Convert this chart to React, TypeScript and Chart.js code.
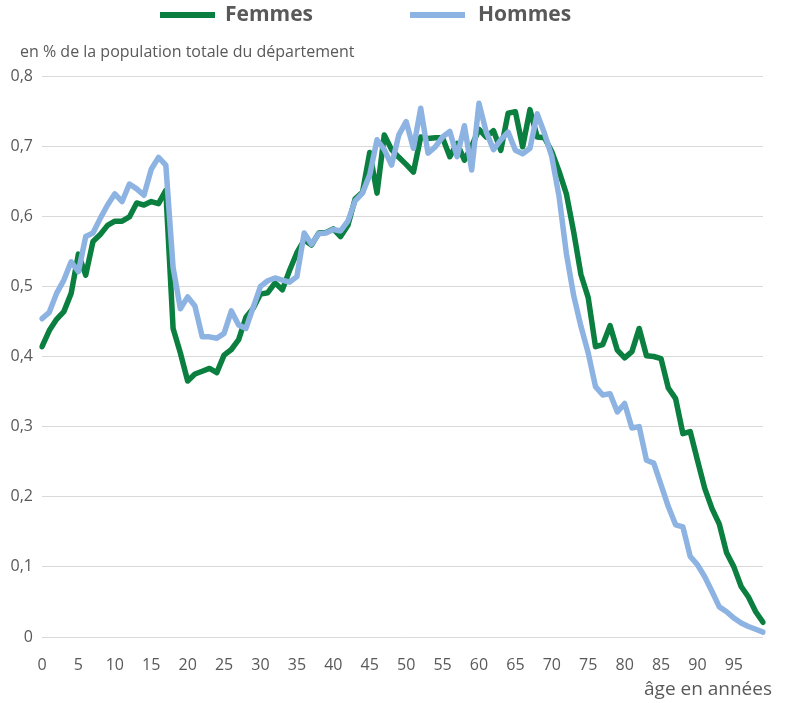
import React, { useEffect, useRef } from "react";
import { Chart, registerables } from "chart.js";

Chart.register(...registerables);

const ages: string[] = Array.from({ length: 100 }, (_, i) => String(i));

const xTickLabels = ["0", "5", "10", "15", "20", "25", "30", "35", "40", "45", "50", "55", "60", "65", "70", "75", "80", "85", "90", "95"];

const yTickValues = [0, 0.1, 0.2, 0.3, 0.4, 0.5, 0.6, 0.7, 0.8];

const femmes = [
  0.414, 0.437, 0.453, 0.464, 0.49, 0.546, 0.516, 0.564, 0.574, 0.587,
  0.593, 0.593, 0.599, 0.619, 0.616, 0.621, 0.618, 0.637, 0.44, 0.405,
  0.365, 0.375, 0.379, 0.383, 0.377, 0.402, 0.41, 0.424, 0.456, 0.469,
  0.489, 0.491, 0.505, 0.495, 0.523, 0.548, 0.566, 0.559, 0.576, 0.577,
  0.582, 0.571, 0.587, 0.625, 0.634, 0.691, 0.633, 0.716, 0.695, 0.684,
  0.674, 0.663, 0.713, 0.711, 0.712, 0.712, 0.685, 0.704, 0.68, 0.7,
  0.724, 0.713, 0.722, 0.694, 0.747, 0.749, 0.699, 0.752, 0.713, 0.712,
  0.692, 0.664, 0.632, 0.578, 0.517, 0.484, 0.414, 0.417, 0.444, 0.409,
  0.398, 0.407, 0.44, 0.401, 0.4, 0.397, 0.355, 0.34, 0.29, 0.293,
  0.252, 0.212, 0.183, 0.161, 0.12, 0.1, 0.072, 0.057, 0.036, 0.021,
];

const hommes = [
  0.454, 0.463, 0.49, 0.509, 0.535, 0.521, 0.571, 0.576, 0.597, 0.616,
  0.632, 0.621, 0.646, 0.639, 0.63, 0.667, 0.684, 0.673, 0.527, 0.468,
  0.485, 0.472, 0.428, 0.428, 0.426, 0.433, 0.465, 0.445, 0.44, 0.47,
  0.5, 0.508, 0.512, 0.509, 0.506, 0.514, 0.576, 0.56, 0.575, 0.576,
  0.581, 0.579, 0.593, 0.622, 0.633, 0.659, 0.709, 0.695, 0.673, 0.716,
  0.735, 0.697, 0.754, 0.69, 0.699, 0.713, 0.721, 0.685, 0.729, 0.666,
  0.761, 0.72, 0.695, 0.709, 0.72, 0.694, 0.689, 0.697, 0.746, 0.718,
  0.685, 0.628, 0.547, 0.487, 0.443, 0.405, 0.357, 0.345, 0.347, 0.321,
  0.333, 0.298, 0.3, 0.252, 0.248, 0.217, 0.186, 0.16, 0.157, 0.115,
  0.103, 0.086, 0.065, 0.043, 0.036, 0.027, 0.02, 0.015, 0.011, 0.007,
];

const GREEN = "#0a7f3f";
const BLUE = "#8db3e2";
const TEXT = "#595959";
const FONT = "'Open Sans', 'DejaVu Sans', sans-serif";

const decorPlugin = {
  id: "decor",
  afterDraw(chart: any) {
    const ctx = chart.ctx;
    ctx.save();
    const items = [
      { color: GREEN, label: "Femmes", x0: 160, x1: 215, tx: 225 },
      { color: BLUE, label: "Hommes", x0: 410, x1: 465, tx: 478 },
    ];
    for (const it of items) {
      ctx.strokeStyle = it.color;
      ctx.lineWidth = 6;
      ctx.lineCap = "butt";
      ctx.beginPath();
      ctx.moveTo(it.x0, 15);
      ctx.lineTo(it.x1, 15);
      ctx.stroke();
      ctx.fillStyle = TEXT;
      ctx.font = `bold 21px ${FONT}`;
      ctx.textAlign = "left";
      ctx.textBaseline = "middle";
      ctx.fillText(it.label, it.tx, 15);
    }
    ctx.font = `16px ${FONT}`;
    ctx.fillStyle = TEXT;
    ctx.textAlign = "left";
    ctx.textBaseline = "middle";
    ctx.fillText("en % de la population totale du département", 20, 52);
    ctx.font = `19px ${FONT}`;
    ctx.textAlign = "right";
    ctx.fillText("âge en années", 772, 690);
    ctx.restore();
  },
};

export default function App() {
  const ref = useRef<HTMLCanvasElement | null>(null);
  useEffect(() => {
    if (!ref.current) return;
    const chart = new Chart(ref.current, {
      type: "line",
      data: {
        labels: ages,
        datasets: [
          {
            label: "Femmes",
            data: femmes,
            borderColor: GREEN,
            backgroundColor: GREEN,
            borderWidth: 5.5,
            pointRadius: 0,
            tension: 0,
            borderJoinStyle: "round",
            borderCapStyle: "round",
            order: 1,
          },
          {
            label: "Hommes",
            data: hommes,
            borderColor: BLUE,
            backgroundColor: BLUE,
            borderWidth: 5.5,
            pointRadius: 0,
            tension: 0,
            borderJoinStyle: "round",
            borderCapStyle: "round",
            order: 0,
          },
        ],
      },
      options: {
        animation: false,
        responsive: false,
        maintainAspectRatio: false,
        layout: { padding: { top: 76, right: 28, left: 0, bottom: 0 } },
        plugins: {
          legend: { display: false },
          title: { display: false },
          tooltip: { enabled: false },
        },
        scales: {
          x: {
            type: "category",
            grid: { display: false },
            border: { display: false },
            ticks: {
              autoSkip: false,
              maxRotation: 0,
              minRotation: 0,
              padding: 11,
              color: TEXT,
              font: { family: FONT, size: 16 },
              callback: (_v: any, idx: number) => {
                const s = ages[idx];
                return xTickLabels.includes(s) ? s : "";
              },
            },
            afterFit: (scale: any) => {
              scale.height = 66;
            },
          },
          y: {
            min: 0,
            max: 0.8,
            afterBuildTicks: (scale: any) => {
              scale.ticks = yTickValues.map((v) => ({ value: v }));
            },
            grid: { color: "#d9d9d9", lineWidth: 1, drawTicks: false },
            border: { display: false },
            ticks: {
              padding: 9,
              color: TEXT,
              font: { family: FONT, size: 16 },
              callback: (v: any) => (v === 0 ? "0" : Number(v).toFixed(1).replace(".", ",")),
            },
            afterFit: (scale: any) => {
              scale.width = 42;
            },
          },
        },
      },
      plugins: [decorPlugin],
    });
    return () => chart.destroy();
  }, []);
  return (
    <div style={{ position: "absolute", left: 0, top: 0, width: 791, height: 703 }}>
      <canvas ref={ref} width={791} height={703} style={{ width: 791, height: 703 }} />
    </div>
  );
}
